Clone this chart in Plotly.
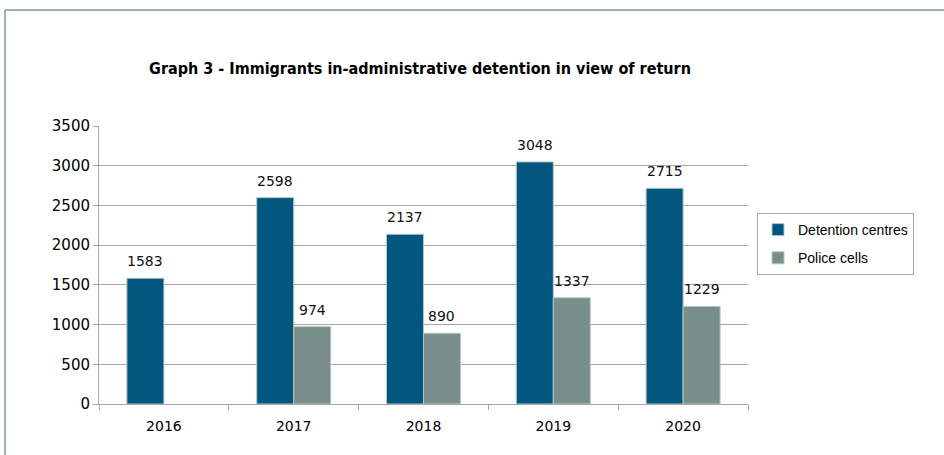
import plotly.graph_objects as go

years = ["2016", "2017", "2018", "2019", "2020"]
detention_centres = [1583, 2598, 2137, 3048, 2715]
police_cells = [None, 974, 890, 1337, 1229]

W, H = 944, 455
L, R, T, B = 99, 196, 126, 51
pw, ph = W - L - R, H - T - B

def px(x):
    return (x - L) / pw

def py(y):
    return (H - B - y) / ph

fig = go.Figure()
fig.add_trace(go.Bar(
    name="Detention centres", x=years, y=detention_centres, legendgroup="a",
    marker=dict(color="#02577f", line=dict(color="#b9c3c8", width=1)),
))
fig.add_trace(go.Bar(
    name="Police cells", x=years, y=police_cells, legendgroup="b",
    marker=dict(color="#788f8a", line=dict(color="#b9c3c8", width=1)),
))

bargap = 0.43
bar_px = pw / len(years) * (1 - bargap) / 2
annotations = []
for series, shift in ((detention_centres, -bar_px / 2), (police_cells, bar_px / 2)):
    for i, v in enumerate(series):
        if v is None:
            continue
        annotations.append(dict(
            x=i, y=v, xref="x", yref="y", text=str(v), showarrow=False,
            xshift=shift, yshift=17, yanchor="middle",
            font=dict(family="DejaVu Sans", size=14, color="#111"),
        ))

fig.update_layout(
    width=W, height=H,
    margin=dict(l=L, r=R, t=T, b=B),
    paper_bgcolor="white", plot_bgcolor="white",
    barmode="group", bargap=bargap, bargroupgap=0,
    title=dict(
        text="<b>Graph 3 - Immigrants in-administrative detention in view of return</b>",
        x=420 / W, xanchor="center", y=1 - 68 / H, yanchor="middle",
        font=dict(family="DejaVu Sans Condensed, DejaVu Sans, sans-serif", size=16, color="#000"),
    ),
    legend=dict(
        x=px(757), y=py(213), xanchor="left", yanchor="top",
        bordercolor="#a6a6a6", borderwidth=1, bgcolor="white",
        font=dict(family="Liberation Sans, Arial, sans-serif", size=14, color="#000"),
        itemwidth=30, tracegroupgap=7, traceorder="grouped",
    ),
    xaxis=dict(
        type="category", categoryorder="array", categoryarray=years, range=[-0.5, len(years) - 0.5],
        showgrid=False, showline=True, linecolor="#a6a6a6", linewidth=1,
        ticks="outside", tickson="boundaries", ticklen=5, tickcolor="#a6a6a6",
        tickfont=dict(family="DejaVu Sans", size=14, color="#000"), ticklabelstandoff=9,
    ),
    yaxis=dict(
        range=[0, 3500], dtick=500, showgrid=True, gridcolor="#a6a6a6", gridwidth=1,
        showline=True, linecolor="#a6a6a6", ticks="outside", ticklen=5, tickcolor="#a6a6a6",
        tickfont=dict(family="DejaVu Sans", size=15, color="#000"), zeroline=False,
    ),
    annotations=annotations,
    shapes=[
        dict(type="line", xref="paper", yref="paper", x0=px(5), x1=px(960), y0=py(10), y1=py(10),
             line=dict(color="#7a9a98", width=1.5)),
        dict(type="line", xref="paper", yref="paper", x0=px(5), x1=px(5), y0=py(10), y1=py(470),
             line=dict(color="#7a9a98", width=1.5)),
    ],
)

fig.write_html("out.html", config={"displayModeBar": False},
               post_script="document.body.style.margin='0';")
